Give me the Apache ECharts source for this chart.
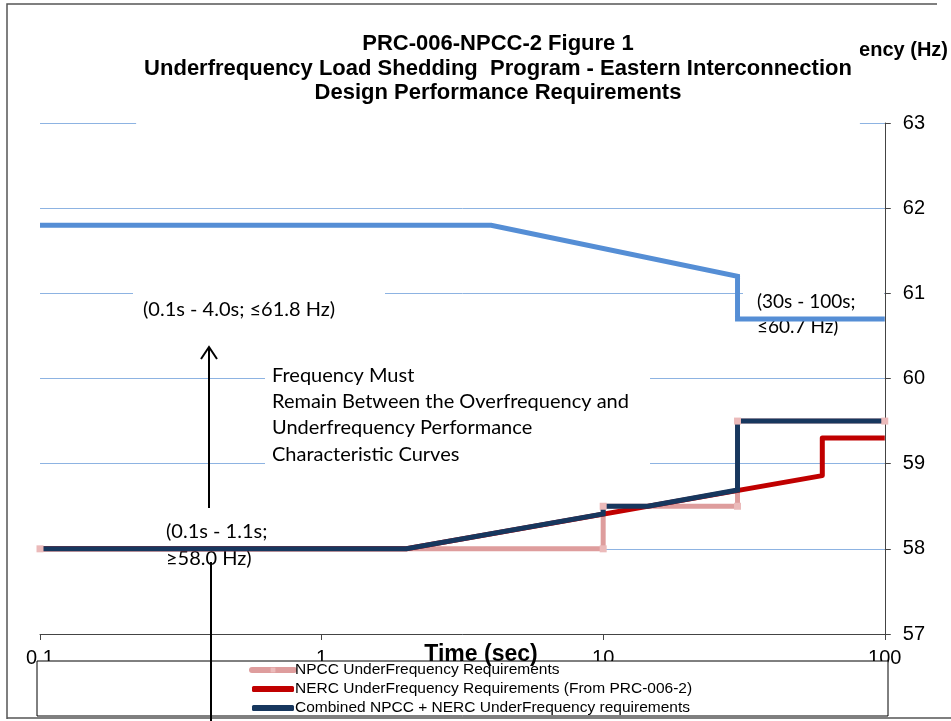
<!DOCTYPE html>
<html>
<head>
<meta charset="utf-8">
<script src="https://cdn.jsdelivr.net/npm/echarts@6/dist/echarts.min.js"></script>
<style>
  html, body { margin: 0; padding: 0; background: #fff; }
  #chart { width: 951px; height: 721px; }
</style>
</head>
<body>
<div id="chart"></div>
<script>
// time (s) / frequency (Hz) pairs
const overTime = [0.1, 4.0, 30, 30, 100]
const overFreq = [61.8, 61.8, 61.2, 60.7, 60.7]
const npccTime = [0.1, 10, 10, 30, 30, 100]
const npccFreq = [58.0, 58.0, 58.5, 58.5, 59.5, 59.5]
const nercTime = [0.1, 2.0, 60, 60, 100]
const nercFreq = [58.0, 58.0, 58.86, 59.3, 59.3]
const combTime = [0.1, 2.0, 10, 10, 14.4, 30, 30, 100]
const combFreq = [58.0, 58.0, 58.41, 58.5, 58.5, 58.69, 59.5, 59.5]
const timeTicks = [0.1, 1, 10, 100]
const freqMin = 57
const freqMax = 63

const seriesNames = [
  'NPCC UnderFrequency Requirements',
  'NERC UnderFrequency Requirements (From PRC-006-2)',
  'Combined NPCC + NERC UnderFrequency requirements'
]

const pairs = (xs, ys) => xs.map((x, i) => [x, ys[i]])

const calibri = 'Lato, "Noto Sans", sans-serif'
const arial = '"Liberation Sans", Arial, sans-serif'

const chart = echarts.init(document.getElementById('chart'), null, { renderer: 'canvas' })

chart.setOption({
  backgroundColor: '#fff',
  animation: false,
  title: {
    text: 'PRC-006-NPCC-2 Figure 1\nUnderfrequency Load Shedding  Program - Eastern Interconnection\nDesign Performance Requirements',
    left: 490,
    top: 20,
    textAlign: 'center',
    padding: [12, 8, 22, 8],
    backgroundColor: '#fff',
    textStyle: { fontFamily: arial, fontSize: 22, fontWeight: 'bold', color: '#000', lineHeight: 24.5 }
  },
  grid: { left: 40, right: 66, top: 123, bottom: 87 },
  legend: {
    data: [
      { name: seriesNames[0] },
      { name: seriesNames[1], icon: 'roundRect' },
      { name: seriesNames[2], icon: 'roundRect' }
    ],
    orient: 'vertical',
    left: 249,
    top: 662,
    padding: 0,
    itemGap: 3,
    itemWidth: 42,
    itemHeight: 6,
    lineStyle: { width: 6, cap: 'round' },
    textStyle: { fontFamily: arial, fontSize: 15.5, color: '#000', padding: [0, 0, 0, -4] }
  },
  xAxis: {
    type: 'log',
    logBase: 10,
    min: timeTicks[0],
    max: timeTicks[timeTicks.length - 1],
    axisLine: { lineStyle: { color: '#444', width: 1 } },
    axisTick: { show: true, length: 6, lineStyle: { color: '#444' } },
    axisLabel: {
      margin: 14, fontFamily: arial, fontSize: 20, color: '#000',
      formatter: v => String(+(+v).toPrecision(3))
    },
    splitLine: { show: false },
    minorTick: { show: false }
  },
  yAxis: {
    type: 'value',
    position: 'right',
    min: freqMin,
    max: freqMax,
    interval: 1,
    name: 'Frequency (Hz)',
    nameLocation: 'end',
    nameGap: 63,
    nameTextStyle: { fontFamily: arial, fontSize: 20, fontWeight: 'bold', color: '#000', padding: [0, 18, 0, 0] },
    axisLine: { show: true, lineStyle: { color: '#444', width: 1 } },
    axisTick: { show: true, length: 6, lineStyle: { color: '#444' } },
    axisLabel: { margin: 18, fontFamily: arial, fontSize: 20, color: '#000' },
    splitLine: { show: true, lineStyle: { color: '#8DB3E2', width: 1 } }
  },
  series: [
    {
      name: 'Overfrequency',
      type: 'line',
      data: pairs(overTime, overFreq),
      symbol: 'none',
      lineStyle: { color: '#558ED5', width: 5, join: 'miter' },
      itemStyle: { color: '#558ED5' }
    },
    {
      name: seriesNames[0],
      type: 'line',
      data: pairs(npccTime, npccFreq),
      symbol: 'rect',
      symbolSize: 7,
      lineStyle: { color: '#DE9D9D', width: 5, join: 'miter' },
      itemStyle: { color: '#EBBABA' }
    },
    {
      name: seriesNames[1],
      type: 'line',
      data: pairs(nercTime, nercFreq),
      symbol: 'none',
      lineStyle: { color: '#C00000', width: 5, join: 'round' },
      itemStyle: { color: '#C00000' }
    },
    {
      name: seriesNames[2],
      type: 'line',
      data: pairs(combTime, combFreq),
      symbol: 'none',
      lineStyle: { color: '#17375E', width: 5, join: 'miter' },
      itemStyle: { color: '#17375E' }
    }
  ],
  graphic: [
    // page border
    { type: 'polyline', z: 1, shape: { points: [[7, 719], [7, 4], [937, 4]] }, style: { stroke: '#555', lineWidth: 1.5, fill: null } },
    { type: 'line', z: 1, shape: { x1: 7, y1: 718, x2: 951, y2: 718 }, style: { stroke: '#555', lineWidth: 1.5 } },
    // white boxes behind the annotations (hide the gridlines)
    { type: 'rect', z: 1, shape: { x: 133, y: 283, width: 252, height: 54 }, style: { fill: '#fff' } },
    { type: 'rect', z: 1, shape: { x: 743, y: 285, width: 141, height: 60 }, style: { fill: '#fff' } },
    { type: 'rect', z: 1, shape: { x: 265, y: 362, width: 385, height: 108 }, style: { fill: '#fff' } },
    // legend box
    { type: 'rect', z: 1, shape: { x: 37, y: 661, width: 851, height: 55 }, style: { fill: '#fff', stroke: '#000', lineWidth: 1 } },
    // x axis title, kept above the legend box
    { type: 'text', z: 3, x: 481, y: 655, style: { text: 'Time (sec)', font: 'bold 23px ' + arial, fill: '#000', align: 'center', verticalAlign: 'middle' } },
    // annotation texts
    { type: 'text', z: 3, left: 143, top: 300, style: { text: '(0.1s - 4.0s; \u226461.8 Hz)', font: '20px ' + calibri, fill: '#000' } },
    { type: 'text', z: 3, left: 757, top: 289, style: { text: '(30s - 100s;\n\u226460.7 Hz)', font: '19px ' + calibri, fill: '#000', lineHeight: 25 } },
    { type: 'text', z: 3, left: 272, top: 362, style: { text: 'Frequency Must\nRemain Between the Overfrequency and\nUnderfrequency Performance\nCharacteristic Curves', font: '20px ' + calibri, fill: '#000', lineHeight: 26.3 } },
    { type: 'text', z: 3, left: 166, top: 518, style: { text: '(0.1s - 1.1s;\n\u226558.0 Hz)', font: '20px ' + calibri, fill: '#000', lineHeight: 27 } },
    // arrows
    { type: 'line', z: 5, shape: { x1: 209, y1: 508, x2: 209, y2: 347 }, style: { stroke: '#000', lineWidth: 2 } },
    { type: 'polyline', z: 5, shape: { points: [[201, 359], [209, 347], [217, 359]] }, style: { stroke: '#000', lineWidth: 2, fill: null } },
    { type: 'line', z: 5, shape: { x1: 211, y1: 562, x2: 211, y2: 721 }, style: { stroke: '#000', lineWidth: 2 } }
  ]
})
</script>
</body>
</html>
